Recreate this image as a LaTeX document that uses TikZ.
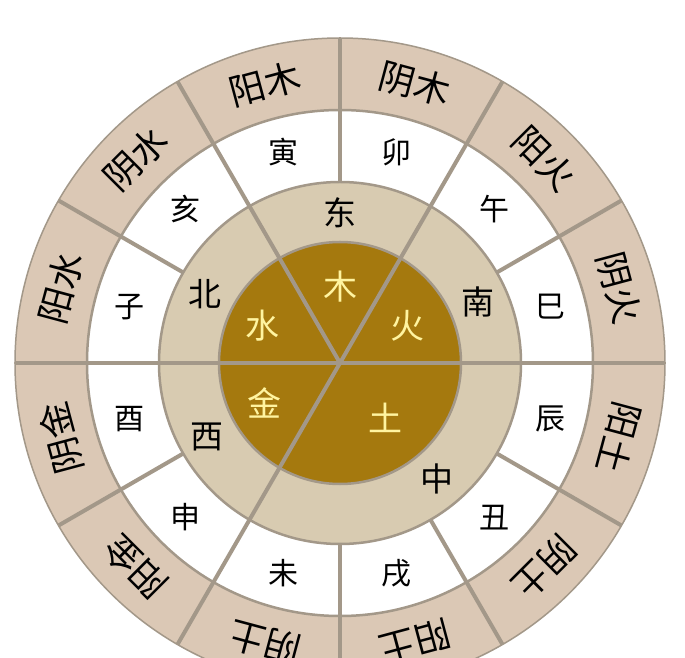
\documentclass[tikz,border=0pt]{standalone}
\usepackage{fontspec}
\setmainfont{Noto Sans CJK SC}
\definecolor{ringouter}{RGB}{219,200,181}
\definecolor{ringdir}{RGB}{216,203,177}
\definecolor{coreclr}{RGB}{165,121,14}
\definecolor{lineclr}{RGB}{163,152,137}
\definecolor{elemclr}{RGB}{255,244,160}

\begin{document}
\begin{tikzpicture}[x=1pt, y=1pt]
\tikzset{ring/.style={draw=lineclr, line width=2.5pt}}
\tikzset{divider/.style={draw=lineclr, line width=4pt}}
\tikzset{stemlabel/.style={font=\fontsize{36pt}{36pt}\selectfont, inner sep=0pt}}
\tikzset{branchlabel/.style={font=\fontsize{30pt}{30pt}\selectfont, inner sep=0pt}}
\tikzset{dirlabel/.style={font=\fontsize{33pt}{33pt}\selectfont, inner sep=0pt}}
\tikzset{elemlabel/.style={font=\fontsize{34pt}{34pt}\selectfont, text=elemclr, inner sep=0pt}}
\useasboundingbox (-340,-295) rectangle (345,363);
\clip (-340,-295) rectangle (345,363);
\fill[white] (-340,-295) rectangle (345,363);
% rings
\filldraw[ring, fill=ringouter, line width=1.5pt] (0,0) circle (325pt);
\filldraw[ring, fill=white] (0,0) circle (253pt);
\filldraw[ring, fill=ringdir] (0,0) circle (181pt);
\filldraw[ring, fill=coreclr] (0,0) circle (121pt);
% dividers through the centre
\draw[divider] (180:325pt) -- (0:325pt);
\draw[divider] (0,0) -- (60:325pt);
\draw[divider] (0,0) -- (120:325pt);
\draw[divider] (0,0) -- (240:325pt);
% dividers of the outer rings
\draw[divider] (30:181pt) -- (30:325pt);
\draw[divider] (90:181pt) -- (90:325pt);
\draw[divider] (150:181pt) -- (150:325pt);
\draw[divider] (210:181pt) -- (210:325pt);
\draw[divider] (270:181pt) -- (270:325pt);
\draw[divider] (300:181pt) -- (300:325pt);
\draw[divider] (330:181pt) -- (330:325pt);
% outer ring
\node[stemlabel, rotate=15] (yangmu) at (105:289pt) {阳木};
\node[stemlabel, rotate=-15] (yinmu) at (75:289pt) {阴木};
\node[stemlabel, rotate=-45] (yanghuo) at (45:289pt) {阳火};
\node[stemlabel, rotate=-75] (yinhuo) at (15:289pt) {阴火};
\node[stemlabel, rotate=-105] (yangtu-a) at (-15:289pt) {阳土};
\node[stemlabel, rotate=-135] (yintu-a) at (-45:289pt) {阴土};
\node[stemlabel, rotate=-165] (yangtu-b) at (-75:289pt) {阳土};
\node[stemlabel, rotate=165] (yintu-b) at (-105:289pt) {阴土};
\node[stemlabel, rotate=135] (yangjin) at (-135:289pt) {阳金};
\node[stemlabel, rotate=105] (yinjin) at (-165:289pt) {阴金};
\node[stemlabel, rotate=75] (yangshui) at (165:289pt) {阳水};
\node[stemlabel, rotate=45] (yinshui) at (135:289pt) {阴水};
% branches
\node[branchlabel] (b-yin) at (105:218pt) {寅};
\node[branchlabel] (b-mao) at (75:218pt) {卯};
\node[branchlabel] (b-wu) at (45:218pt) {午};
\node[branchlabel] (b-si) at (15:218pt) {巳};
\node[branchlabel] (b-chen) at (-15:218pt) {辰};
\node[branchlabel] (b-chou) at (-45:218pt) {丑};
\node[branchlabel] (b-xu) at (-75:218pt) {戌};
\node[branchlabel] (b-wei) at (-105:218pt) {未};
\node[branchlabel] (b-shen) at (-135:218pt) {申};
\node[branchlabel] (b-you) at (-165:218pt) {酉};
\node[branchlabel] (b-zi) at (165:218pt) {子};
\node[branchlabel] (b-hai) at (135:218pt) {亥};
% directions
\node[dirlabel] (dong) at (90:150pt) {东};
\node[dirlabel] (nan) at (24:151pt) {南};
\node[dirlabel] (bei) at (153:151pt) {北};
\node[dirlabel] (xi) at (209:152pt) {西};
\node[dirlabel] (zhong) at (-50:151pt) {中};
% elements
\node[elemlabel] (mu) at (90:76pt) {木};
\node[elemlabel] (huo) at (29:77pt) {火};
\node[elemlabel] (shui) at (154:86pt) {水};
\node[elemlabel] (jin) at (208:85pt) {金};
\node[elemlabel] (tu) at (-50:71pt) {土};
\end{tikzpicture}
\end{document}
